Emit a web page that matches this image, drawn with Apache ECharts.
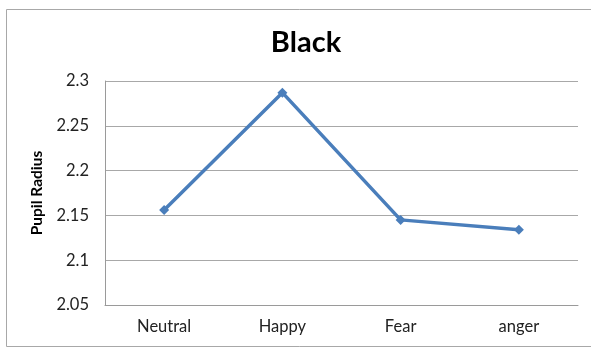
<!DOCTYPE html>
<html>
<head>
<meta charset="utf-8">
<script src="https://cdn.jsdelivr.net/npm/echarts@6/dist/echarts.min.js"></script>
<style>
  html, body { margin: 0; padding: 0; background: #fff; }
  #chart { width: 591px; height: 348px; }
</style>
</head>
<body>
<div id="chart"></div>
<script>
// Mean pupil radius per emotion condition
const categories = ['Neutral', 'Happy', 'Fear', 'anger'];
const pupilRadius = [2.156, 2.287, 2.145, 2.134];
const yTicks = { min: 2.05, max: 2.3, step: 0.05 };

const chart = echarts.init(document.getElementById('chart'), null, { renderer: 'canvas' });

const labelFont = 'Lato, "Open Sans", "Liberation Sans", sans-serif';

chart.setOption({
  animation: false,
  backgroundColor: '#ffffff',
  title: {
    text: 'Black',
    left: 301,
    top: 23,
    textAlign: 'center',
    textStyle: { fontFamily: labelFont, fontWeight: 'bold', fontSize: 29, color: '#000' }
  },
  graphic: [{
    type: 'rect',
    shape: { x: 6.5, y: 9.5, width: 600, height: 337 },
    style: { fill: null, stroke: '#a8a8a8', lineWidth: 1 },
    silent: true
  }],
  grid: { left: 105, right: 13, top: 81, bottom: 43 },
  xAxis: {
    type: 'category',
    data: categories,
    boundaryGap: true,
    axisLine: { show: true, lineStyle: { color: '#9a9a9a', width: 1 } },
    axisTick: { show: false },
    axisLabel: { fontFamily: labelFont, fontSize: 16.5, color: '#222', margin: 13 }
  },
  yAxis: {
    type: 'value',
    min: yTicks.min,
    max: yTicks.max,
    interval: yTicks.step,
    name: 'Pupil Radius',
    nameLocation: 'middle',
    nameGap: 53,
    nameRotate: 90,
    nameTextStyle: { fontFamily: labelFont, fontWeight: 'bold', fontSize: 15.5, color: '#000' },
    axisLine: { show: true, lineStyle: { color: '#9a9a9a', width: 1 } },
    axisTick: { show: false },
    splitLine: { show: true, lineStyle: { color: '#a8a8a8', width: 1 } },
    axisLabel: {
      fontFamily: labelFont, fontSize: 16.5, color: '#222', margin: 16,
      formatter: v => String(parseFloat(v.toFixed(2)))
    }
  },
  series: [{
    type: 'line',
    data: pupilRadius,
    symbol: 'diamond',
    symbolSize: 10,
    lineStyle: { color: '#4a7ebb', width: 3.5 },
    itemStyle: { color: '#4a7ebb' }
  }]
});
</script>
</body>
</html>
